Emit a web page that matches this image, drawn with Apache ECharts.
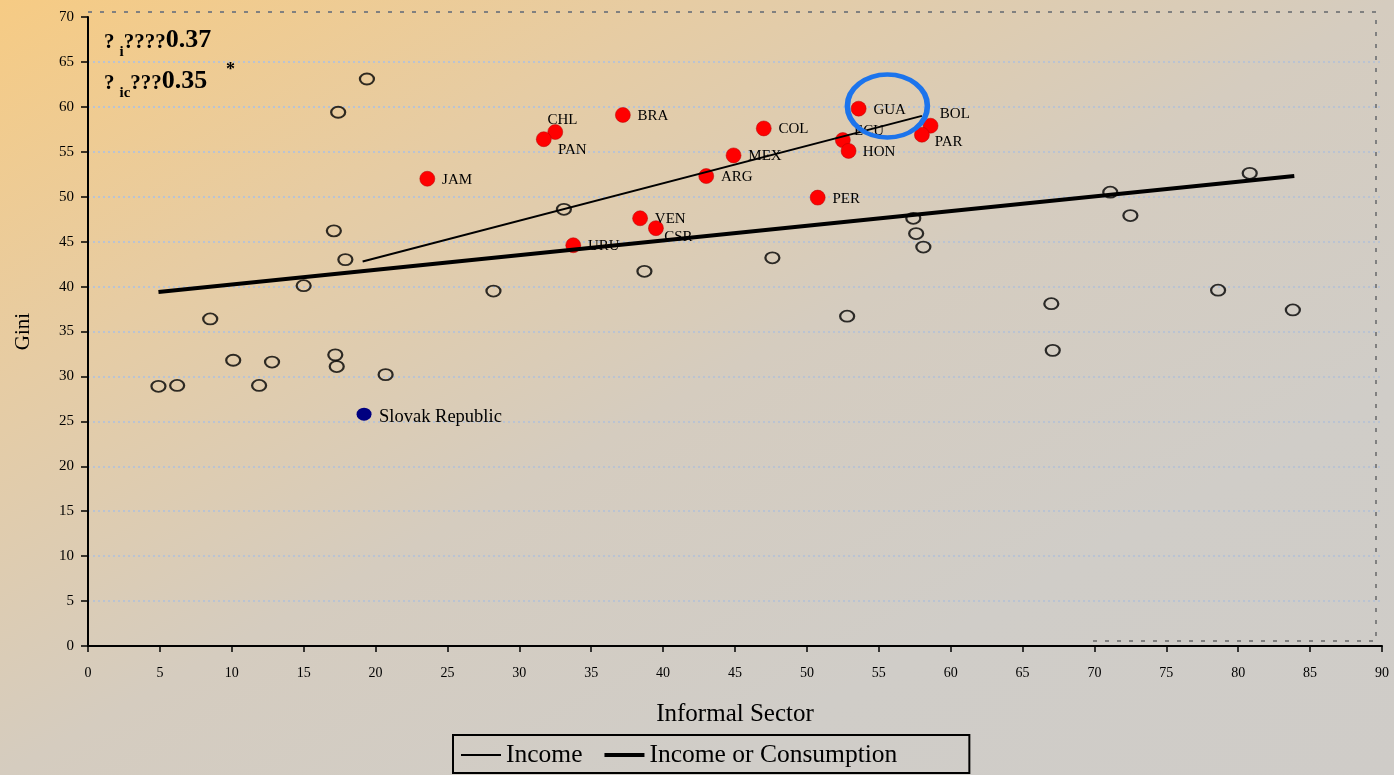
<!DOCTYPE html>
<html>
<head>
<meta charset="utf-8">
<script src="https://cdn.jsdelivr.net/npm/echarts@6/dist/echarts.min.js"></script>
<style>
  html, body { margin: 0; padding: 0; }
  #chart {
    width: 1394px; height: 775px;
    background: linear-gradient(to bottom right, #f6cb84 0%, #e6cca4 25%, #d5ccbf 50%, #d0cdc8 75%, #cfccc8 100%);
  }
</style>
</head>
<body>
<div id="chart"></div>
<script>
// ---------- data ----------
const redNames = ['CHL','PAN','BRA','COL','GUA','ECU','HON','BOL','PAR','MEX','ARG','JAM','PER','VEN','CSR','URU'];
const redX     = [32.5, 31.7, 37.2, 47.0, 53.6, 52.5, 52.9, 58.6, 58.0, 44.9, 43.0, 23.6, 50.75, 38.4, 39.5, 33.75];
const redY     = [57.2, 56.4, 59.1, 57.6, 59.8, 56.3, 55.1, 57.9, 56.9, 54.6, 52.3, 52.0, 49.9, 47.6, 46.5, 44.6];

const openX = [19.4, 17.4, 33.1, 17.1, 17.9, 15.0, 28.2, 38.7, 47.6, 8.5, 10.1, 12.8, 17.2, 17.3, 20.7, 4.9, 6.2, 11.9,
               52.8, 57.4, 57.6, 58.1, 67.0, 67.1, 71.1, 72.5, 80.8, 78.6, 83.8];
const openY = [63.1, 59.4, 48.6, 46.2, 43.0, 40.1, 39.5, 41.7, 43.2, 36.4, 31.8, 31.6, 32.4, 31.1, 30.2, 28.9, 29.0, 29.0,
               36.7, 47.6, 45.9, 44.4, 38.1, 32.9, 50.5, 47.9, 52.6, 39.6, 37.4];

const slovakNames = ['Slovak Republic'];
const slovakX = [19.2];
const slovakY = [25.8];

const incomeX = [19.1, 58.0];
const incomeY = [42.8, 59.0];
const incConsX = [4.9, 83.9];
const incConsY = [39.4, 52.3];

const highlightX = [55.6];
const highlightY = [60.1];

const seriesNames = ['Income', 'Income or Consumption'];
const coefI = '0.37';
const coefIC = '0.35';

// ---------- styles ----------
const SERIF = "'Liberation Serif', 'Times New Roman', serif";
const labelOffsets = {
  CHL: [-20.5, -12], PAN: [1.5, 11], BOL: [-3.5, -12], PAR: [0, 7], ECU: [-1.5, -9],
  HON: [1.5, 1], CSR: [-4.5, 9]
};
const defaultOffset = [2, 1];

const zip = (xs, ys) => xs.map((x, i) => [x, ys[i]]);

const redData = redNames.map((n, i) => ({
  name: n, value: [redX[i], redY[i]],
  label: { offset: labelOffsets[n] || defaultOffset }
}));

const chart = echarts.init(document.getElementById('chart'));

const richMain = {
  q: { fontSize: 21, fontFamily: SERIF, color: '#000', lineHeight: 22, padding: [0, 0, 7, 0], verticalAlign: 'bottom' },
  b: { fontSize: 26, fontFamily: SERIF, fontWeight: 'bold', color: '#000', lineHeight: 27, padding: [0, 0, 7, 0], verticalAlign: 'bottom' },
  s: { fontSize: 15, fontFamily: SERIF, fontWeight: 'bold', color: '#000', lineHeight: 15, verticalAlign: 'bottom' }
};

const option = {
  backgroundColor: 'transparent',
  animation: false,
  title: [
    { left: 104, top: 33, padding: 0, text: '{q|?} {s|i}{q|????}{b|' + coefI + '}', textStyle: { rich: richMain } },
    { left: 104, top: 74, padding: 0, text: '{q|?} {s|ic}{q|???}{b|' + coefIC + '}', textStyle: { rich: richMain } },
    { left: 226, top: 61, padding: 0, text: '*', textStyle: { fontSize: 18, fontWeight: 'bold', fontFamily: SERIF, color: '#000' } }
  ],
  graphic: [{
    type: 'polyline', silent: true, z: 0,
    shape: { points: [[88, 12], [1376, 12], [1376, 641], [1092, 641]] },
    style: { fill: 'none', stroke: '#808080', lineWidth: 2, lineDash: [4, 8] }
  }],
  grid: { left: 88, right: 12, top: 17, bottom: 129, containLabel: false },
  legend: {
    data: [
      { name: seriesNames[0], icon: 'path://M0,0L0,0M0,16L0,16M0,7H40V9H0Z' },
      { name: seriesNames[1], icon: 'path://M0,0L0,0M0,16L0,16M0,6H40V10H0Z' }
    ],
    left: 453, top: 735,
    orient: 'horizontal',
    itemWidth: 40, itemHeight: 16, itemGap: 22,
    padding: [7, 72, 5, 8],
    borderColor: '#000', borderWidth: 2,
    itemStyle: { borderWidth: 0, color: '#000' },
    textStyle: { fontSize: 25.5, fontFamily: SERIF, color: '#000' },
    selectedMode: false
  },
  xAxis: {
    type: 'value', min: 0, max: 90, interval: 5,
    name: 'Informal Sector', nameLocation: 'middle', nameGap: 56,
    nameTextStyle: { fontSize: 25, fontFamily: SERIF, color: '#000' },
    axisLine: { show: true, onZero: false, lineStyle: { color: '#000', width: 2 } },
    axisTick: { show: true, length: 6, lineStyle: { color: '#000', width: 1.5 } },
    axisLabel: { fontSize: 14, fontFamily: SERIF, color: '#000', margin: 20 },
    splitLine: { show: false }
  },
  yAxis: {
    type: 'value', min: 0, max: 70, interval: 5,
    name: 'Gini', nameLocation: 'middle', nameGap: 54, nameRotate: 90,
    nameTextStyle: { fontSize: 21, fontFamily: SERIF, color: '#000' },
    axisLine: { show: true, onZero: false, lineStyle: { color: '#000', width: 2 } },
    axisTick: { show: true, length: 7, lineStyle: { color: '#000', width: 1.5 } },
    axisLabel: { fontSize: 15, fontFamily: SERIF, color: '#000', margin: 14 },
    splitLine: { show: true, showMaxLine: false, showMinLine: false, lineStyle: { color: '#b9c3d3', type: [2, 3], width: 2 } }
  },
  series: [
    {
      name: 'open', type: 'scatter', z: 3,
      data: zip(openX, openY),
      symbol: 'circle', symbolSize: [14, 11],
      itemStyle: { color: 'rgba(0,0,0,0)', borderColor: '#000', borderWidth: 2 },
      silent: true
    },
    {
      name: 'countries', type: 'scatter', z: 3,
      data: redData,
      symbol: 'circle', symbolSize: 15,
      itemStyle: { color: '#ff0000', borderColor: '#b00000', borderWidth: 0.5, opacity: 1 },
      label: { show: true, position: 'right', distance: 5, formatter: '{b}', fontSize: 15, fontFamily: SERIF, color: '#000' },
      silent: true
    },
    {
      name: 'slovak', type: 'scatter', z: 3,
      data: slovakNames.map((n, i) => ({ name: n, value: [slovakX[i], slovakY[i]] })),
      symbol: 'circle', symbolSize: [15, 13],
      itemStyle: { color: '#000080', opacity: 1 },
      label: { show: true, position: 'right', distance: 5, offset: [2.5, 3], formatter: '{b}', fontSize: 18.5, fontFamily: SERIF, color: '#000' },
      silent: true
    },
    {
      name: seriesNames[0], type: 'line', z: 5,
      data: zip(incomeX, incomeY),
      symbol: 'none', showSymbol: false,
      lineStyle: { color: '#000', width: 2 },
      itemStyle: { color: '#000' }
    },
    {
      name: seriesNames[1], type: 'line', z: 5,
      data: zip(incConsX, incConsY),
      symbol: 'none', showSymbol: false,
      lineStyle: { color: '#000', width: 4 },
      itemStyle: { color: '#000' }
    },
    {
      name: 'highlight', type: 'scatter', z: 6,
      data: zip(highlightX, highlightY),
      symbol: 'circle', symbolSize: [80, 63],
      itemStyle: { color: 'rgba(0,0,0,0)', borderColor: '#1c74ec', borderWidth: 5, opacity: 1 },
      silent: true
    }
  ]
};
chart.setOption(option);
</script>
</body>
</html>
